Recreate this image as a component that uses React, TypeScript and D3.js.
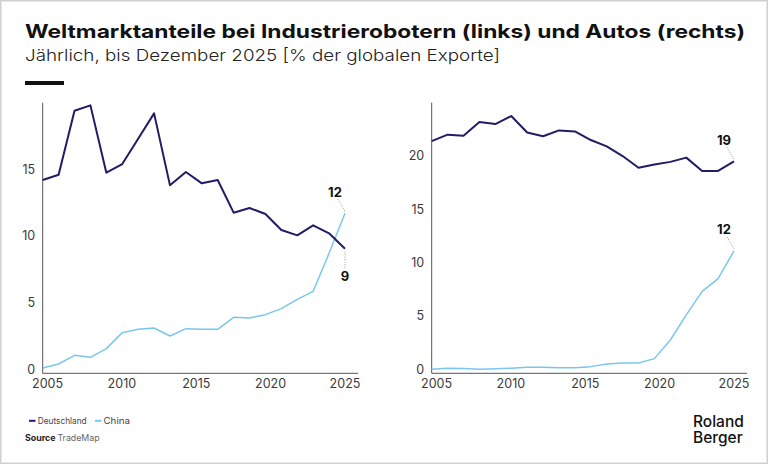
import * as d3 from "d3";

// one value per year, 20 annual points ending in 2025
const years = d3.range(2006, 2026);
const tickYears = [2005, 2010, 2015, 2020, 2025];

const robotsDe = [14.2, 14.6, 19.4, 19.8, 14.75, 15.4, 17.3, 19.2, 13.8, 14.8, 13.95, 14.2, 11.75, 12.1, 11.65, 10.45, 10.05, 10.8, 10.2, 9.05];
const robotsCn = [0.1, 0.4, 1.05, 0.9, 1.55, 2.75, 3.0, 3.1, 2.5, 3.05, 3.0, 3.0, 3.9, 3.85, 4.1, 4.55, 5.25, 5.85, 8.7, 11.7];
const carsDe = [21.4, 22.0, 21.9, 23.2, 23.0, 23.75, 22.2, 21.85, 22.4, 22.3, 21.5, 20.9, 20.0, 18.9, 19.2, 19.45, 19.85, 18.6, 18.6, 19.5];
const carsCn = [0.0, 0.1, 0.08, 0.0, 0.05, 0.1, 0.2, 0.2, 0.15, 0.15, 0.25, 0.5, 0.6, 0.6, 1.0, 2.75, 5.1, 7.3, 8.5, 11.1];

const robotsTicks = [0, 5, 10, 15];
const carsTicks = [0, 5, 10, 15, 20];

const DE = "#1f1d66";
const CN = "#7cc6ee";
const FONT = "Inter, 'Noto Sans', sans-serif";

interface EndLabel {
  text: string;
  series: "de" | "cn";
  pos: "above" | "below";
}

const robotsLabels: EndLabel[] = [
  { text: "12", series: "cn", pos: "above" },
  { text: "9", series: "de", pos: "below" },
];
const carsLabels: EndLabel[] = [
  { text: "19", series: "de", pos: "above" },
  { text: "12", series: "cn", pos: "above" },
];

interface PanelProps {
  left: number;
  de: number[];
  cn: number[];
  yMax: number;
  ticks: number[];
  labels: EndLabel[];
}

function Panel({ left, de, cn, yMax, ticks, labels }: PanelProps) {
  const top = 102.7;
  const zeroY = 369.3;
  const axisY = 373.3;
  const dataW = 302.3;
  const axisW = 315.3;

  const x = d3.scaleLinear().domain([years[0], years[years.length - 1]]).range([0, dataW]);
  const xTick = d3.scaleLinear().domain([2005, 2025]).range([4.8, dataW]);
  const y = d3.scaleLinear().domain([0, yMax]).range([zeroY, top]);
  const line = d3
    .line<number>()
    .x((_, i) => x(years[i]))
    .y((d) => y(d));

  const lastX = x(years[years.length - 1]);

  return (
    <g transform={`translate(${left},0)`}>
      <line x1={0} x2={0} y1={top} y2={axisY} stroke="#555" strokeWidth={1} />
      <line x1={0} x2={axisW} y1={axisY} y2={axisY} stroke="#555" strokeWidth={1} />
      {ticks.map((t) => (
        <text key={t} x={-7.5} y={y(t)} dy="0.35em" textAnchor="end" fontSize={12.5} fill="#3a3a3a" fontFamily={FONT}>
          {t}
        </text>
      ))}
      {tickYears.map((t) => (
        <text key={t} x={xTick(t)} y={388} textAnchor="middle" fontSize={12.5} fill="#3a3a3a" fontFamily={FONT}>
          {t}
        </text>
      ))}
      <path d={line(cn) ?? ""} fill="none" stroke={CN} strokeWidth={1.5} strokeLinejoin="round" />
      <path d={line(de) ?? ""} fill="none" stroke={DE} strokeWidth={2} strokeLinejoin="round" />
      {labels.map((l) => {
        const vals = l.series === "de" ? de : cn;
        const py = y(vals[vals.length - 1]);
        if (l.pos === "above") {
          return (
            <g key={l.text + l.series}>
              <line x1={lastX - 7} y1={py - 14} x2={lastX} y2={py - 2} stroke="#999" strokeWidth={1} strokeDasharray="1 1.5" />
              <text x={lastX - 10} y={py - 16.5} textAnchor="middle" fontSize={13} fontWeight={700} fill="#111" fontFamily={FONT}>
                {l.text}
              </text>
            </g>
          );
        }
        return (
          <g key={l.text + l.series}>
            <line x1={lastX} y1={py + 3} x2={lastX} y2={py + 19} stroke="#999" strokeWidth={1} strokeDasharray="1 1.5" />
            <text x={lastX} y={py + 32.5} textAnchor="middle" fontSize={13} fontWeight={700} fill="#111" fontFamily={FONT}>
              {l.text}
            </text>
          </g>
        );
      })}
    </g>
  );
}

export default function App() {
  return (
    <svg
      width={768}
      height={464}
      viewBox="0 0 768 464"
      style={{ position: "absolute", left: 0, top: 0, background: "#fff" }}
    >
      <rect x={0.75} y={0.75} width={766.5} height={462.5} fill="#fff" stroke="#d0d0d0" strokeWidth={1.5} />
      <text x={25} y={38} fontSize={18.5} fontWeight={700} fill="#111" fontFamily={FONT} textLength={720} lengthAdjust="spacingAndGlyphs">
        Weltmarktanteile bei Industrierobotern (links) und Autos (rechts)
      </text>
      <text x={25} y={60.5} fontSize={16.5} fontWeight={300} fill="#222" fontFamily={FONT} textLength={475} lengthAdjust="spacingAndGlyphs">
        Jährlich, bis Dezember 2025 [% der globalen Exporte]
      </text>
      <rect x={25} y={81} width={39} height={4} fill="#111" />

      <Panel left={42.7} de={robotsDe} cn={robotsCn} yMax={20} ticks={robotsTicks} labels={robotsLabels} />
      <Panel left={431.7} de={carsDe} cn={carsCn} yMax={25} ticks={carsTicks} labels={carsLabels} />

      <line x1={29} x2={35.5} y1={420.8} y2={420.8} stroke={DE} strokeWidth={2} />
      <text x={37.7} y={424} fontSize={9} fill="#444" fontFamily={FONT} textLength={49} lengthAdjust="spacingAndGlyphs">
        Deutschland
      </text>
      <line x1={95} x2={101.5} y1={420.8} y2={420.8} stroke={CN} strokeWidth={2} />
      <text x={103.5} y={424} fontSize={9} fill="#444" fontFamily={FONT} textLength={26.5} lengthAdjust="spacingAndGlyphs">
        China
      </text>
      <text x={25} y={440.5} fontSize={8.8} fill="#222" fontFamily={FONT}>
        <tspan fontWeight={700}>Source</tspan>
        <tspan fill="#666" dx={2}>TradeMap</tspan>
      </text>

      <text fontSize={15.5} fontWeight={500} fill="#111" fontFamily={FONT}>
        <tspan x={693} y={426.5}>Roland</tspan>
        <tspan x={693} y={442.5}>Berger</tspan>
      </text>
    </svg>
  );
}
